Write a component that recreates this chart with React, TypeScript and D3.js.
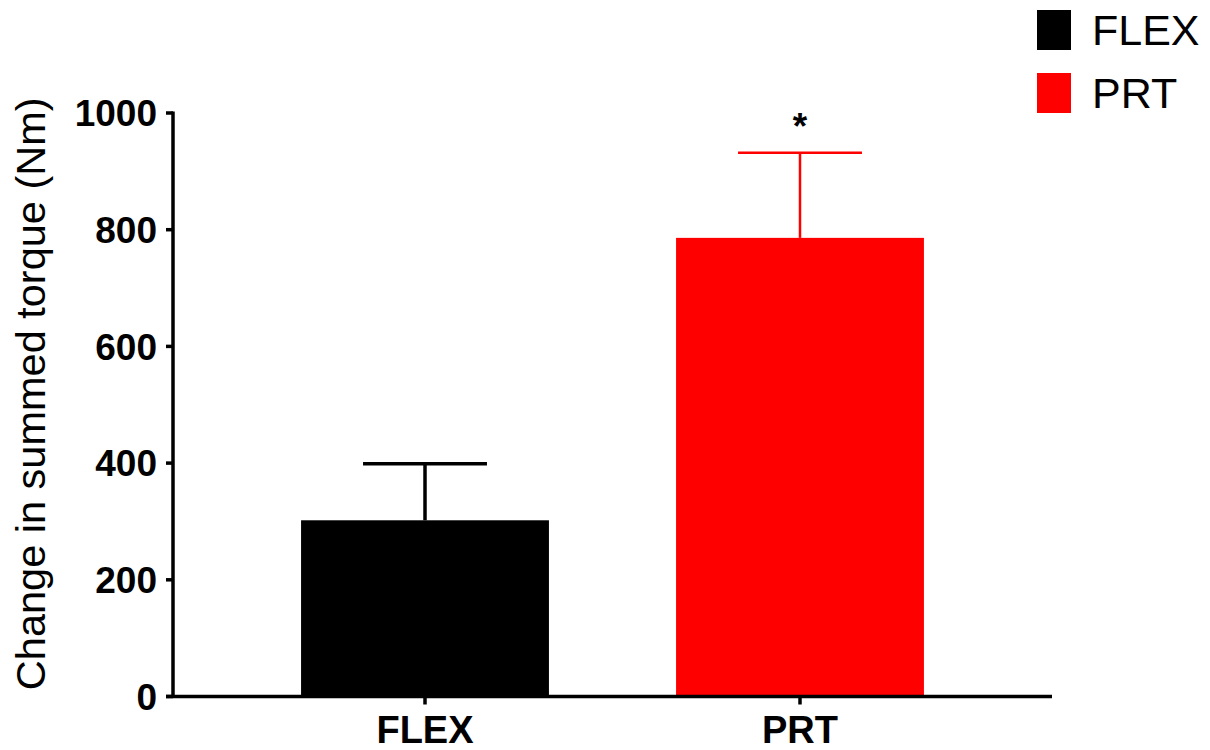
import React from 'react'
import * as d3 from 'd3'

// group data
const groups = ['FLEX', 'PRT']
const means = [302, 786]
const errors = [97, 146]
const colors = ['#000000', '#ff0000']
const yTicks = [0, 200, 400, 600, 800, 1000]
const significance = ['', '*']

const W = 1210
const H = 750
const left = 173
const right = 1052
const top = 113
const bottom = 696.5

export default function App() {
  const y = d3.scaleLinear().domain([0, 1000]).range([bottom, top])
  const x = d3.scaleBand<string>()
    .domain(groups)
    .range([left, right])
    .paddingInner(0.339)
    .paddingOuter(0.3415)
  const bw = x.bandwidth()
  const font = 'Liberation Sans, Arial, sans-serif'

  return (
    <svg width={W} height={H} style={{ position: 'absolute', left: 0, top: 0 }} fontFamily={font}>
      <rect width={W} height={H} fill="#fff" />

      {/* bars + error bars (upper only) */}
      {groups.map((g, i) => {
        const x0 = x(g)!
        const cx = x0 + bw / 2
        const yTop = y(means[i])
        const yErr = y(means[i] + errors[i])
        const sw = i === 0 ? 3.5 : 2.5
        return (
          <g key={g}>
            <rect x={x0} y={yTop} width={bw} height={bottom - yTop} fill={colors[i]} />
            <line x1={cx} x2={cx} y1={yTop} y2={yErr} stroke={colors[i]} strokeWidth={sw} />
            <line x1={cx - bw / 4} x2={cx + bw / 4} y1={yErr} y2={yErr} stroke={colors[i]} strokeWidth={sw} />
            {significance[i] && (
              <text x={cx} y={139} textAnchor="middle" fontSize={37} fontWeight="bold">{significance[i]}</text>
            )}
          </g>
        )
      })}

      {/* y axis */}
      <line x1={left} x2={left} y1={top - 1.5} y2={bottom + 1.5} stroke="#000" strokeWidth={3.5} />
      {yTicks.map(t => (
        <g key={t}>
          <line x1={left - 7} x2={left} y1={y(t)} y2={y(t)} stroke="#000" strokeWidth={3.5} />
          <text x={157} y={y(t)} dy="0.36em" textAnchor="end" fontSize={37} fontWeight="bold">{t}</text>
        </g>
      ))}

      {/* x axis */}
      <line x1={left - 7} x2={right} y1={bottom} y2={bottom} stroke="#000" strokeWidth={3.5} />
      {groups.map(g => {
        const cx = x(g)! + bw / 2
        return (
          <g key={g}>
            <line x1={cx} x2={cx} y1={bottom} y2={bottom + 8} stroke="#000" strokeWidth={3.5} />
            <text x={cx} y={743} textAnchor="middle" fontSize={38} fontWeight="bold">{g}</text>
          </g>
        )
      })}

      {/* y title */}
      <text
        transform={`translate(45, ${(top + bottom) / 2 - 11}) rotate(-90)`}
        textAnchor="middle"
        fontSize={41.5}
      >
        Change in summed torque (Nm)
      </text>

      {/* legend */}
      {groups.map((g, i) => (
        <g key={g} transform={`translate(1037, ${10 + i * 63})`}>
          <rect width={34} height={40} fill={colors[i]} />
          <text x={55} y={35} fontSize={43}>{g}</text>
        </g>
      ))}
    </svg>
  )
}
